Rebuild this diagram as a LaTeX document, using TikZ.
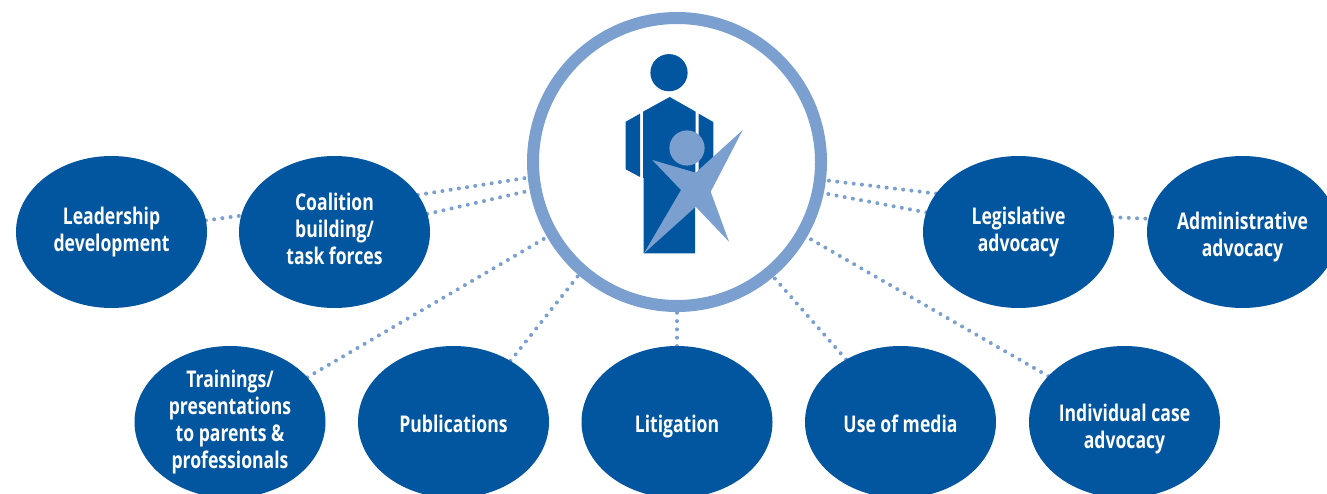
\documentclass[tikz,border=0pt]{standalone}
\usepackage{fontspec}
\setmainfont{Open Sans}[FakeStretch=0.765]
\usetikzlibrary{shapes.geometric,backgrounds}
\definecolor{deepblue}{HTML}{02559F}
\definecolor{softblue}{HTML}{7B9FCF}
\newcommand\bubtext[2][-7]{\makebox[0pt]{\raisebox{#1pt}[0pt][0pt]{\begin{tabular}[c]{@{}c@{}}#2\end{tabular}}}}
\tikzset{
  bubble/.style={ellipse,fill=deepblue,text=white,inner sep=0pt,outer sep=0pt,
    minimum width=191,minimum height=152,
    font=\fontsize{23}{27}\selectfont\bfseries},
  hubring/.style={circle,draw=softblue,fill=white,line width=12,minimum size=288,inner sep=0pt},
  linkdots/.style={draw=softblue,line width=4,line cap=round,dash pattern=on 0pt off 8.3pt}
}
\begin{document}
\begin{tikzpicture}[x=1pt,y=-1pt]
\useasboundingbox (0,0) rectangle (1327,494);
\begin{scope}
\clip (0,0) rectangle (1327,494);
\node[bubble] (lead) at (111.5,232) {\bubtext{Leadership\\development}};
\node[bubble] (coal) at (334.5,232) {\bubtext[-6]{Coalition\\building/\\task forces}};
\node[bubble] (legis) at (1018.5,232) {\bubtext{Legislative\\advocacy}};
\node[bubble] (admin) at (1242.5,232) {\bubtext[-12]{Administrative\\advocacy}};
\node[bubble] (train) at (230,422) {\bubtext{Trainings/\\presentations\\to parents \&\\professionals}};
\node[bubble] (pub) at (453.5,422) {\bubtext[-11]{Publications}};
\node[bubble] (lit) at (677,422) {\bubtext[-11]{Litigation}};
\node[bubble] (media) at (900.5,422) {\bubtext[-11]{Use of media}};
\node[bubble] (indiv) at (1124.5,422) {\bubtext[-14]{Individual case\\advocacy}};
\node[hubring] (hub) at (677,162) {};
\end{scope}
\begin{scope}[on background layer]
\draw[linkdots] (lead.7.2) -- (coal.170.7);
\draw[linkdots] (coal.24.5) -- (hub.186.8);
\draw[linkdots] (coal.11.6) -- (hub.191.7);
\draw[linkdots] (train.30.6) -- (hub.210.3);
\draw[linkdots] (pub.47.7) -- (hub.229.9);
\draw[linkdots] (lit.90) -- (hub.270);
\draw[linkdots] (media.131.8) -- (hub.310.7);
\draw[linkdots] (indiv.149.7) -- (hub.330.1);
\draw[linkdots] (legis.155.1) -- (hub.353.1);
\draw[linkdots] (legis.168) -- (hub.348.5);
\draw[linkdots] (legis.9.6) -- (admin.172.8);
\end{scope}
% figure
\fill[deepblue] (669,72.7) circle (18.6);
\fill[deepblue] (669.7,97) -- (643,111.7) -- (643,178) -- (643.7,178) -- (643.7,253.3) -- (695,253.3) -- (695.7,111.7) -- cycle;
\fill[deepblue] (640,113.7) -- (625.7,121.7) -- (625.7,169.3) -- (640,177) -- cycle;
\fill[deepblue] (698.7,113.7) -- (713.3,122) -- (713.3,177) -- (698.7,177) -- cycle;
\fill[softblue] (687,148) circle (17.6);
\fill[softblue] (742.7,130) -- (710.7,191.7) -- (729,241.7) -- (695.7,206.7) -- (644,253.3) -- (681,190) -- (652.3,160) -- (695.7,172.7) -- cycle;
\end{tikzpicture}
\end{document}
